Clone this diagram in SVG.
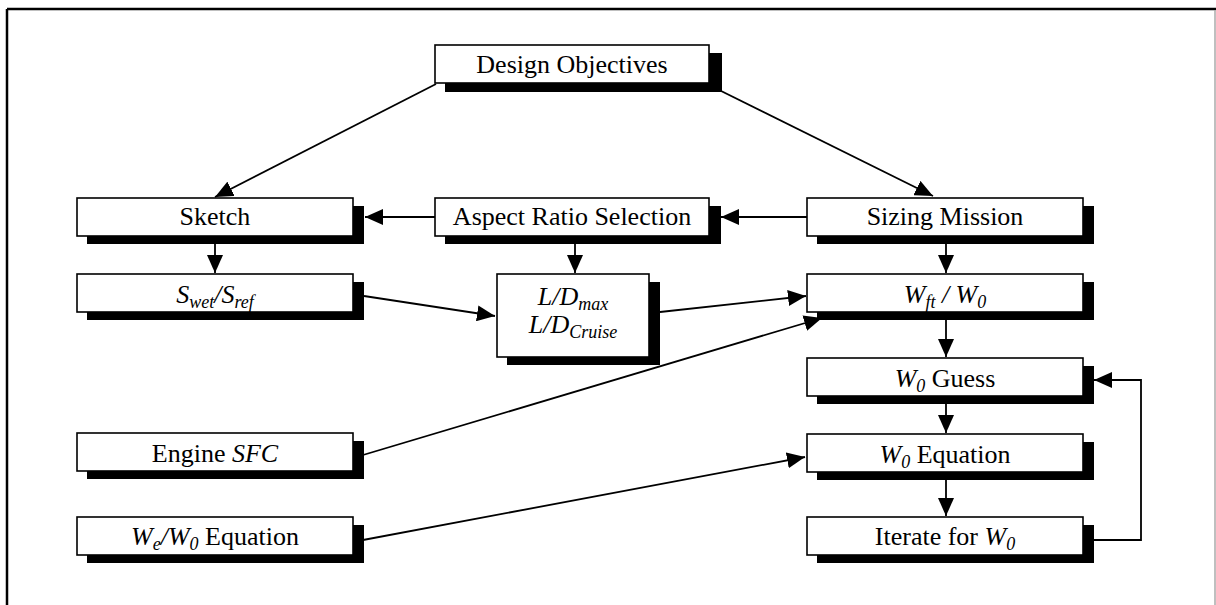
<svg xmlns="http://www.w3.org/2000/svg" width="1216" height="605" viewBox="0 0 1216 605">
  <style>
    .box { fill: #fff; stroke: #000; stroke-width: 1.6; }
    .shadow { fill: #000; }
    .lbl { font-family: "Liberation Serif", "Times New Roman", serif; font-size: 26px; fill: #000; text-anchor: middle; }
    .it { font-style: italic; }
    .sub { font-style: italic; font-size: 18px; }
    .wire { fill: none; stroke: #000; stroke-width: 1.8; }
  </style>
  <defs>
    <marker id="arrow" markerUnits="userSpaceOnUse" markerWidth="18" markerHeight="16" refX="18" refY="8" orient="auto">
      <path d="M0,0 L18,8 L0,16 z" fill="#000"/>
    </marker>
  </defs>

  <rect width="1216" height="605" fill="#fff"/>

  <!-- page frame -->
  <g id="frame">
    <line x1="7" y1="9" x2="1216" y2="9" stroke="#000" stroke-width="2.5"/>
    <line x1="7" y1="9" x2="7" y2="605" stroke="#000" stroke-width="2.5"/>
    <line x1="1215" y1="10" x2="1215" y2="605" stroke="#aaa" stroke-width="1.5"/>
  </g>

  <!-- connectors -->
  <g id="connectors">
    <line class="wire" x1="436" y1="84" x2="215" y2="197" marker-end="url(#arrow)"/>
    <line class="wire" x1="709" y1="85" x2="933" y2="196" marker-end="url(#arrow)"/>
    <line class="wire" x1="807" y1="217" x2="721" y2="217" marker-end="url(#arrow)"/>
    <line class="wire" x1="435" y1="217" x2="365" y2="217" marker-end="url(#arrow)"/>
    <line class="wire" x1="215" y1="244" x2="215" y2="273" marker-end="url(#arrow)"/>
    <line class="wire" x1="575" y1="244" x2="575" y2="273" marker-end="url(#arrow)"/>
    <line class="wire" x1="946" y1="244" x2="946" y2="273" marker-end="url(#arrow)"/>
    <line class="wire" x1="364" y1="296" x2="495" y2="316" marker-end="url(#arrow)"/>
    <line class="wire" x1="660" y1="312" x2="806" y2="296" marker-end="url(#arrow)"/>
    <line class="wire" x1="946" y1="320" x2="946" y2="357" marker-end="url(#arrow)"/>
    <line class="wire" x1="946" y1="404" x2="946" y2="433" marker-end="url(#arrow)"/>
    <line class="wire" x1="946" y1="480" x2="946" y2="516" marker-end="url(#arrow)"/>
    <line class="wire" x1="363" y1="455" x2="822" y2="318" marker-end="url(#arrow)"/>
    <line class="wire" x1="363" y1="540" x2="805" y2="457" marker-end="url(#arrow)"/>
    <polyline class="wire" points="1094,540 1141,540 1141,380 1094,380" marker-end="url(#arrow)"/>
  </g>

  <g id="design-objectives">
    <rect class="shadow" x="445" y="53" width="277" height="39"/>
    <rect class="box" x="435" y="45" width="274" height="38"/>
    <text class="lbl" x="572" y="73">Design Objectives</text>
  </g>

  <g id="sketch">
    <rect class="shadow" x="87" y="206" width="277" height="38"/>
    <rect class="box" x="77" y="198" width="276" height="38"/>
    <text class="lbl" x="215" y="225">Sketch</text>
  </g>

  <g id="aspect-ratio">
    <rect class="shadow" x="445" y="206" width="276" height="38"/>
    <rect class="box" x="435" y="198" width="274" height="38"/>
    <text class="lbl" x="572" y="225">Aspect Ratio Selection</text>
  </g>

  <g id="sizing-mission">
    <rect class="shadow" x="817" y="206" width="277" height="38"/>
    <rect class="box" x="807" y="198" width="276" height="38"/>
    <text class="lbl" x="945" y="225">Sizing Mission</text>
  </g>

  <g id="wetted-area-ratio">
    <rect class="shadow" x="87" y="282" width="277" height="38"/>
    <rect class="box" x="77" y="274" width="276" height="38"/>
    <text class="lbl" x="215" y="303"><tspan class="it">S</tspan><tspan class="sub" dy="5">wet</tspan><tspan class="it" dy="-5">/S</tspan><tspan class="sub" dy="5">ref</tspan></text>
  </g>

  <g id="lift-to-drag">
    <rect class="shadow" x="507" y="282" width="153" height="83"/>
    <rect class="box" x="497" y="274" width="152" height="83"/>
    <text class="lbl" x="573" y="305"><tspan class="it">L/D</tspan><tspan class="sub" dy="5">max</tspan></text>
    <text class="lbl" x="573" y="333"><tspan class="it">L/D</tspan><tspan class="sub" dy="5">Cruise</tspan></text>
  </g>

  <g id="fuel-fraction">
    <rect class="shadow" x="817" y="282" width="277" height="38"/>
    <rect class="box" x="807" y="274" width="276" height="38"/>
    <text class="lbl" x="945" y="303"><tspan class="it">W</tspan><tspan class="sub" dy="5">ft</tspan><tspan class="it" dy="-5"> / W</tspan><tspan class="sub" dy="5">0</tspan></text>
  </g>

  <g id="w0-guess">
    <rect class="shadow" x="817" y="366" width="277" height="38"/>
    <rect class="box" x="807" y="358" width="276" height="38"/>
    <text class="lbl" x="945" y="387"><tspan class="it">W</tspan><tspan class="sub" dy="5">0</tspan><tspan dy="-5"> Guess</tspan></text>
  </g>

  <g id="engine-sfc">
    <rect class="shadow" x="87" y="441" width="277" height="38"/>
    <rect class="box" x="77" y="433" width="276" height="38"/>
    <text class="lbl" x="215" y="462">Engine <tspan class="it">SFC</tspan></text>
  </g>

  <g id="w0-equation">
    <rect class="shadow" x="817" y="442" width="277" height="38"/>
    <rect class="box" x="807" y="434" width="276" height="38"/>
    <text class="lbl" x="945" y="463"><tspan class="it">W</tspan><tspan class="sub" dy="5">0</tspan><tspan dy="-5"> Equation</tspan></text>
  </g>

  <g id="empty-weight-equation">
    <rect class="shadow" x="87" y="525" width="277" height="38"/>
    <rect class="box" x="77" y="517" width="276" height="38"/>
    <text class="lbl" x="215" y="545"><tspan class="it">W</tspan><tspan class="sub" dy="5">e</tspan><tspan class="it" dy="-5">/W</tspan><tspan class="sub" dy="5">0</tspan><tspan dy="-5"> Equation</tspan></text>
  </g>

  <g id="iterate">
    <rect class="shadow" x="817" y="525" width="277" height="38"/>
    <rect class="box" x="807" y="517" width="276" height="38"/>
    <text class="lbl" x="945" y="545">Iterate for <tspan class="it">W</tspan><tspan class="sub" dy="5">0</tspan></text>
  </g>
</svg>
